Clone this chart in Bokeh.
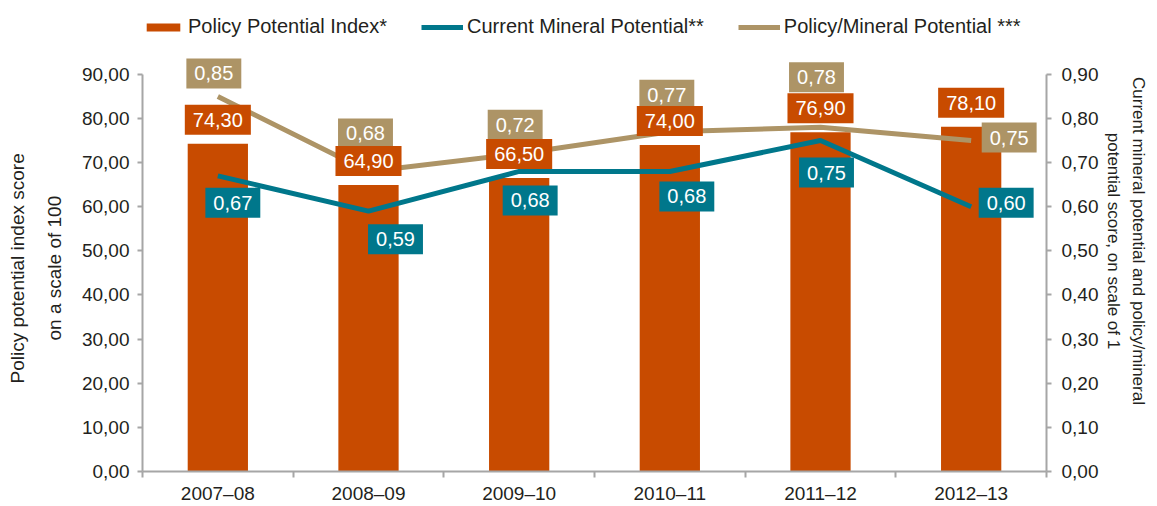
import math
from bokeh.plotting import figure
from bokeh.models import (Range1d, LinearAxis, FixedTicker, CustomJSTickFormatter,
                          ColumnDataSource, Legend, LegendItem, Title)
from bokeh.core.properties import value
from bokeh.embed import file_html
from bokeh.resources import INLINE

# ---------------- data ----------------
periods = ["2007–08", "2008–09", "2009–10", "2010–11", "2011–12", "2012–13"]
policy_potential_index = [74.30, 64.90, 66.50, 74.00, 76.90, 78.10]
current_mineral_potential = [0.67, 0.59, 0.68, 0.68, 0.75, 0.60]
policy_mineral_potential = [0.85, 0.68, 0.72, 0.77, 0.78, 0.75]
left_ticks = [0, 10, 20, 30, 40, 50, 60, 70, 80, 90]
right_ticks = [0.0, 0.1, 0.2, 0.3, 0.4, 0.5, 0.6, 0.7, 0.8, 0.9]

# ---------------- label layout (screen px, x right / y up) ----------------
ppi_dx = [0, 0, 0, 0, 0, 0]
ppi_dy = [24, 24, 24, 24, 24, 24]
pmp_dx = [-4, -3, -4, -3, -4, 38]
pmp_dy = [23, 38, 29, 37, 50, 3]
cmp_dx = [15, 27, 11, 17, 6, 35]
cmp_dy = [-27, -28, -29, -25, -32, 4]

ORANGE = "#C84B00"
TEAL = "#00778B"
TAN = "#AD9466"
AXIS = "#A6A6A6"
TEXT = "#231F20"
FONT = "Liberation Sans"
Y_END = 104.47


def fmt(v):
    return f"{v:.2f}".replace(".", ",")


n = len(periods)
slot = [i + 0.5 for i in range(n)]          # category slot centres on the x scale

src = ColumnDataSource(dict(
    x=slot,
    ppi=policy_potential_index,
    cmp=current_mineral_potential,
    pmp=policy_mineral_potential,
    ppi_txt=[fmt(v) for v in policy_potential_index],
    cmp_txt=[fmt(v) for v in current_mineral_potential],
    pmp_txt=[fmt(v) for v in policy_mineral_potential],
    ppi_dx=ppi_dx, ppi_dy=[-d for d in ppi_dy],
    cmp_dx=cmp_dx, cmp_dy=[-d for d in cmp_dy],
    pmp_dx=pmp_dx, pmp_dy=[-d for d in pmp_dy],
))

p = figure(x_range=Range1d(0, n), y_range=Range1d(0, Y_END),
           width=1157, height=506, output_backend="svg", toolbar_location=None,
           x_axis_location=None, y_axis_location=None,
           min_border_left=142, min_border_right=111, min_border_top=10, min_border_bottom=34,
           outline_line_color=None, background_fill_color="white", border_fill_color="white")
p.extra_y_ranges = {"r": Range1d(0, Y_END / 100)}
p.xgrid.visible = False
p.ygrid.visible = False

bars = p.vbar(x="x", top="ppi", width=0.4, source=src, fill_color=ORANGE, line_color=None)
l_pmp = p.line(x="x", y="pmp", y_range_name="r", source=src, line_color=TAN, line_width=5)
l_cmp = p.line(x="x", y="cmp", y_range_name="r", source=src, line_color=TEAL, line_width=5)

label_kw = dict(text_color="white", text_font=value(FONT), text_font_size="20px",
                text_align="center", text_baseline="middle", padding=dict(x=8, y=8), source=src)
p.text(x="x", y="pmp", text="pmp_txt", x_offset="pmp_dx", y_offset="pmp_dy",
       y_range_name="r", background_fill_color=TAN, **label_kw)
p.text(x="x", y="ppi", text="ppi_txt", x_offset="ppi_dx", y_offset="ppi_dy",
       background_fill_color=ORANGE, **label_kw)
p.text(x="x", y="cmp", text="cmp_txt", x_offset="cmp_dx", y_offset="cmp_dy",
       y_range_name="r", background_fill_color=TEAL, **label_kw)

axis_kw = dict(axis_line_color=AXIS, axis_line_width=2, major_tick_line_color=AXIS,
               major_tick_line_width=2, major_tick_in=0, major_tick_out=5,
               minor_tick_line_color=None, major_label_text_font=FONT,
               major_label_text_font_size="19px", major_label_text_color=TEXT)

left = LinearAxis(ticker=FixedTicker(ticks=left_ticks),
                  formatter=CustomJSTickFormatter(code="return tick.toFixed(2).replace('.', ',');"),
                  bounds=(0, 90), major_label_standoff=8, **axis_kw)
p.add_layout(left, "left")

right = LinearAxis(y_range_name="r", ticker=FixedTicker(ticks=right_ticks),
                   formatter=CustomJSTickFormatter(code="return tick.toFixed(2).replace('.', ',');"),
                   bounds=(0, 0.9), major_label_standoff=10,
                   axis_label="Current mineral potential and policy/mineral\npotential score, on scale of 1",
                   axis_label_standoff=3, axis_label_text_font=FONT,
                   axis_label_text_font_size="17px", axis_label_text_font_style="normal",
                   axis_label_text_color=TEXT, axis_label_text_line_height=1.3, **axis_kw)
p.add_layout(right, "right")

bottom = LinearAxis(ticker=FixedTicker(ticks=slot, minor_ticks=list(range(n + 1))),
                    formatter=CustomJSTickFormatter(args=dict(labels=periods),
                                                    code="return labels[Math.floor(tick)];"),
                    axis_line_color=AXIS, axis_line_width=2,
                    major_tick_line_color=None, major_tick_in=0, major_tick_out=0,
                    minor_tick_line_color=AXIS, minor_tick_line_width=2, minor_tick_in=0,
                    minor_tick_out=6, major_label_standoff=5, major_label_text_font=FONT,
                    major_label_text_font_size="19px", major_label_text_color=TEXT)
p.add_layout(bottom, "below")

# left axis title: two centred lines, added from the axis outward
title_kw = dict(text_font=FONT, text_font_size="19px", text_font_style="normal",
                text_color=TEXT, align="left")
p.add_layout(Title(text="on a scale of 100", offset=131, standoff=28, **title_kw), "left")
p.add_layout(Title(text="Policy potential index score", offset=88, standoff=0, **title_kw), "left")

legend = Legend(items=[LegendItem(label="Policy Potential Index*", renderers=[bars]),
                       LegendItem(label="Current Mineral Potential**", renderers=[l_cmp]),
                       LegendItem(label="Policy/Mineral Potential ***", renderers=[l_pmp])],
                orientation="horizontal", location=(0, 433), glyph_width=42, glyph_height=10,
                label_height=10, label_standoff=4, spacing=34, padding=0, margin=0,
                border_line_color=None, background_fill_alpha=0,
                label_text_font=FONT, label_text_font_size="20px", label_text_color=TEXT)
p.add_layout(legend)

open("out.html", "w").write(file_html(p, INLINE))
